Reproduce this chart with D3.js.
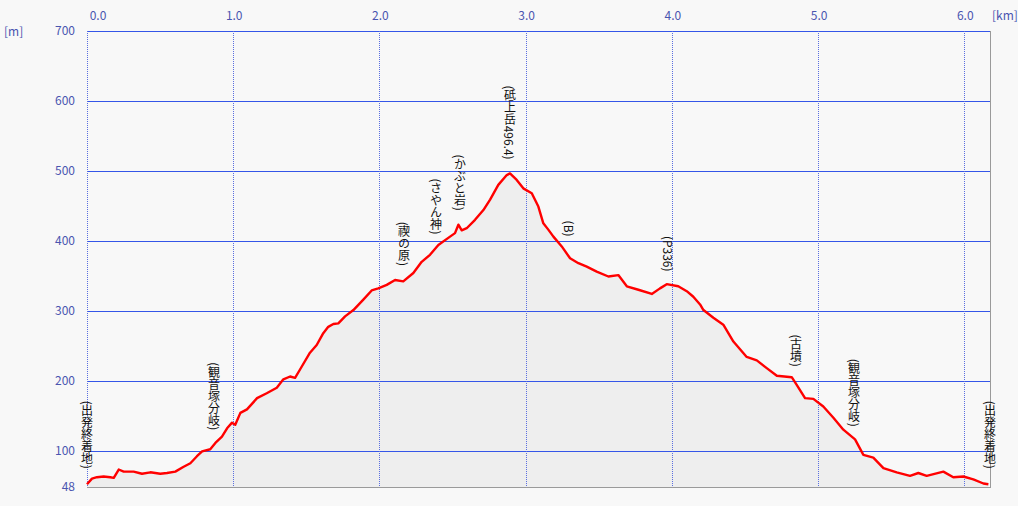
<!DOCTYPE html>
<html>
<head>
<meta charset="utf-8">
<script src="https://cdn.jsdelivr.net/npm/d3@7"></script>
<style>
  body { margin: 0; background: #f8f8f8; }
  text { font-family: "Noto Sans CJK JP", "DejaVu Sans", sans-serif; }
</style>
</head>
<body>
<div id="viz"></div>
<script>
// distance along route [km]
const dist = [0.000, 0.034, 0.068, 0.114, 0.159, 0.183, 0.217, 0.251, 0.319, 0.376,
  0.433, 0.501, 0.547, 0.604, 0.661, 0.707, 0.752, 0.787, 0.843, 0.878,
  0.923, 0.958, 0.992, 1.014, 1.049, 1.094, 1.163, 1.229, 1.298, 1.343,
  1.389, 1.423, 1.457, 1.525, 1.571, 1.616, 1.650, 1.685, 1.719, 1.765,
  1.822, 1.890, 1.947, 1.992, 2.050, 2.107, 2.163, 2.232, 2.289, 2.346,
  2.403, 2.483, 2.517, 2.540, 2.563, 2.597, 2.654, 2.711, 2.757, 2.813,
  2.871, 2.893, 2.939, 2.984, 3.042, 3.087, 3.121, 3.155, 3.190, 3.247,
  3.304, 3.361, 3.418, 3.486, 3.566, 3.634, 3.692, 3.771, 3.863, 3.919,
  3.965, 4.044, 4.102, 4.147, 4.193, 4.216, 4.284, 4.352, 4.421, 4.512,
  4.581, 4.649, 4.718, 4.820, 4.854, 4.911, 4.968, 5.036, 5.105, 5.173,
  5.253, 5.310, 5.378, 5.447, 5.538, 5.629, 5.686, 5.743, 5.857, 5.925,
  5.994, 6.062, 6.131, 6.165];
// elevation [m]
const elev = [52, 60, 62, 63, 62, 61, 73, 70, 70, 67,
  69, 67, 68, 70, 77, 82, 92, 99, 102, 111,
  120, 132, 140, 137, 154, 159, 175, 182, 190, 202,
  206, 204, 216, 240, 251, 268, 277, 281, 282, 292,
  301, 316, 329, 332, 337, 344, 342, 354, 370, 380,
  394, 406, 411, 423, 415, 418, 430, 444, 459, 480,
  494, 496.4, 487, 475, 468, 449, 425, 416, 406, 392,
  375, 368, 363, 356, 349, 351, 335, 330, 324, 332,
  338, 335, 328, 320, 309, 301, 290, 280, 256, 234,
  229, 218, 207, 205, 194, 175, 174, 163, 147, 130,
  116, 94, 90, 75, 69, 64, 68, 64, 70, 62,
  63, 59, 53, 52];

const yTicks = [48, 100, 200, 300, 400, 500, 600, 700];
const xTicks = [0, 1, 2, 3, 4, 5, 6];

// point names along the route
const marks = ["(出発終着地)", "(観音塚分岐)", "(禊の原)", "(さやん神)", "(かぶと岩)",
  "(砥上岳496.4)", "(B)", "(P336)", "(古墳)", "(観音塚分岐)", "(出発終着地)"];
const markKm = [0.0, 0.869, 2.168, 2.387, 2.551, 2.893, 3.297, 3.974, 4.850, 5.246, 6.176];
const markElev = [74, 129, 364, 409, 443, 516, 406, 356, 220, 134, 74];

const width = 1018, height = 506;
const plotL = 87, plotR = 990, plotT = 31, plotB = 487;
const blue = "#4a55b0";

const x = d3.scaleLinear().domain([0, 6.176]).range([plotL, plotR]);
const y = d3.scaleLinear().domain([48, 700]).range([plotB, plotT]);

const svg = d3.select("#viz").append("svg")
  .attr("width", width)
  .attr("height", height);

svg.append("rect").attr("width", width).attr("height", height).attr("fill", "#f8f8f8");

const pts = dist.map((d, i) => ({ km: d, m: elev[i] }));

// area under profile
svg.append("path")
  .datum(pts)
  .attr("fill", "#eeeeee")
  .attr("d", d3.area().x(d => x(d.km)).y0(plotB).y1(d => y(d.m)));

// horizontal grid
svg.selectAll(".hgrid")
  .data(yTicks.filter(t => t !== 48))
  .enter().append("line")
  .attr("x1", plotL).attr("x2", plotR)
  .attr("y1", d => Math.round(y(d)) + 0.5).attr("y2", d => Math.round(y(d)) + 0.5)
  .attr("stroke", "#3556e8").attr("stroke-width", 1);

// vertical grid (dotted)
svg.selectAll(".vgrid")
  .data(xTicks)
  .enter().append("line")
  .attr("x1", d => Math.round(x(d)) + 0.5).attr("x2", d => Math.round(x(d)) + 0.5)
  .attr("y1", plotT).attr("y2", plotB)
  .attr("stroke", "#5a6ee0").attr("stroke-width", 1)
  .attr("stroke-dasharray", "1,1");

// frame right / bottom
svg.append("line").attr("x1", plotR + 0.5).attr("x2", plotR + 0.5).attr("y1", plotT).attr("y2", plotB)
  .attr("stroke", "#9a9a9a");
svg.append("line").attr("x1", plotL).attr("x2", plotR + 1).attr("y1", plotB + 0.5).attr("y2", plotB + 0.5)
  .attr("stroke", "#9a9a9a");

// y labels
svg.selectAll(".ylab")
  .data(yTicks)
  .enter().append("text")
  .attr("x", 75).attr("y", d => y(d))
  .attr("dy", "0.35em")
  .attr("text-anchor", "end")
  .attr("font-size", 12)
  .attr("fill", blue)
  .text(d => d);

// x labels
svg.selectAll(".xlab")
  .data(xTicks)
  .enter().append("text")
  .attr("x", d => d === 0 ? x(d) + 11 : x(d) + 1)
  .attr("y", 16)
  .attr("dy", "0.35em")
  .attr("text-anchor", "middle")
  .attr("font-size", 12)
  .attr("fill", blue)
  .text(d => d.toFixed(1));

svg.append("text").attr("x", 4).attr("y", 32).attr("dy", "0.35em")
  .attr("font-size", 12).attr("fill", blue).text("[m]");
svg.append("text").attr("x", 992).attr("y", 16).attr("dy", "0.35em")
  .attr("font-size", 12).attr("fill", blue).text("[km]");

// profile line
svg.append("path")
  .datum(pts)
  .attr("fill", "none")
  .attr("stroke", "#ff0000")
  .attr("stroke-width", 2.4)
  .attr("stroke-linejoin", "round")
  .attr("d", d3.line().x(d => x(d.km)).y(d => y(d.m)));

// point names, vertical text
svg.selectAll(".mark")
  .data(marks)
  .enter().append("text")
  .attr("x", (d, i) => x(markKm[i]))
  .attr("y", (d, i) => y(markElev[i]))
  .attr("text-anchor", "end")
  .style("writing-mode", "vertical-rl")
  .attr("font-size", 12)
  .attr("fill", "#111")
  .text(d => d);
</script>
</body>
</html>
